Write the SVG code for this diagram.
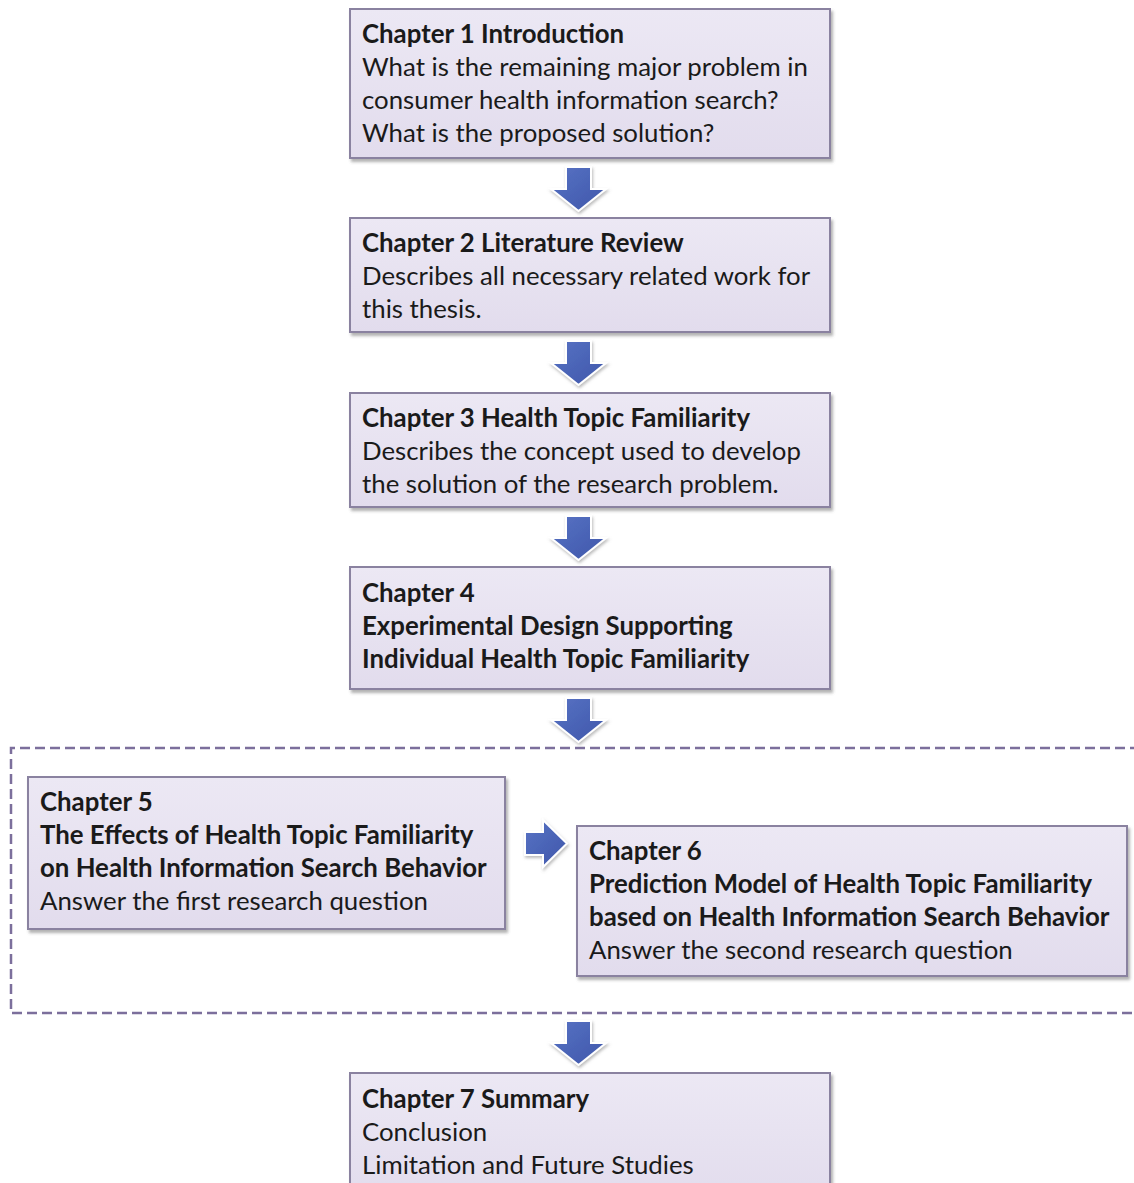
<svg xmlns="http://www.w3.org/2000/svg" width="1134" height="1183" viewBox="0 0 1134 1183">
  <defs>
    <linearGradient id="boxFill" x1="0" y1="0" x2="0" y2="1">
      <stop offset="0" stop-color="#ece8f4"/>
      <stop offset="1" stop-color="#e2dced"/>
    </linearGradient>
    <linearGradient id="arrowFill" x1="0" y1="0" x2="1" y2="1">
      <stop offset="0" stop-color="#5873c4"/>
      <stop offset="1" stop-color="#3e56aa"/>
    </linearGradient>
    <filter id="boxShadow" x="-5%" y="-5%" width="110%" height="115%">
      <feDropShadow dx="2" dy="3" stdDeviation="1.5" flood-color="#555" flood-opacity="0.45"/>
    </filter>
    <filter id="arrowShadow" x="-30%" y="-30%" width="160%" height="160%">
      <feDropShadow dx="1" dy="2" stdDeviation="1.5" flood-color="#777" flood-opacity="0.5"/>
    </filter>
  </defs>
  <style>
    .box { fill: url(#boxFill); stroke: #8a82a0; stroke-width: 2; filter: url(#boxShadow); }
    .arrow { fill: url(#arrowFill); stroke: #ffffff; stroke-width: 2; stroke-linejoin: miter; filter: url(#arrowShadow); }
    .frame { fill: none; stroke: #7c6f9c; stroke-width: 2.5; stroke-dasharray: 10 5; }
    text { font-family: Lato, "Open Sans", "Liberation Sans", sans-serif; font-size: 25.8px; fill: #1a1a1a; }
    .b { font-weight: bold; }
  </style>

  <rect width="1134" height="1183" fill="#ffffff"/>

  <!-- dashed frame around chapters 5 and 6 -->
  <path class="frame" d="M1140,748 H11 V1013 H1140"/>

  <g id="connectors">
    <path class="arrow" d="M566,167 H591 V189 H606 L578.5,211 L551,189 H566 Z"/>
    <path class="arrow" d="M566,341 H591 V363 H606 L578.5,385 L551,363 H566 Z"/>
    <path class="arrow" d="M566,516 H591 V538 H606 L578.5,560 L551,538 H566 Z"/>
    <path class="arrow" d="M566,698 H591 V720 H606 L578.5,742 L551,720 H566 Z"/>
    <path class="arrow" d="M566,1021 H591 V1043 H606 L578.5,1065 L551,1043 H566 Z"/>
    <path class="arrow" d="M525,832 H543 V820 L567,843.5 L543,867 V855 H525 Z"/>
  </g>

  <g id="ch1">
    <rect class="box" x="350" y="9" width="480" height="149"/>
    <text class="b" x="362" y="43">Chapter 1 Introduction</text>
    <text x="362" y="76">What is the remaining major problem in</text>
    <text x="362" y="109">consumer health information search?</text>
    <text x="362" y="142">What is the proposed solution?</text>
  </g>

  <g id="ch2">
    <rect class="box" x="350" y="218" width="480" height="114"/>
    <text class="b" x="362" y="252">Chapter 2 Literature Review</text>
    <text x="362" y="285">Describes all necessary related work for</text>
    <text x="362" y="318">this thesis.</text>
  </g>

  <g id="ch3">
    <rect class="box" x="350" y="393" width="480" height="114"/>
    <text class="b" x="362" y="427">Chapter 3 Health Topic Familiarity</text>
    <text x="362" y="460">Describes the concept used to develop</text>
    <text x="362" y="493">the solution of the research problem.</text>
  </g>

  <g id="ch4">
    <rect class="box" x="350" y="567" width="480" height="122"/>
    <text class="b" x="362" y="602">Chapter 4</text>
    <text class="b" x="362" y="635">Experimental Design Supporting</text>
    <text class="b" x="362" y="668">Individual Health Topic Familiarity</text>
  </g>

  <g id="ch5">
    <rect class="box" x="28" y="777" width="477" height="152"/>
    <text class="b" x="40" y="811">Chapter 5</text>
    <text class="b" x="40" y="844">The Effects of Health Topic Familiarity</text>
    <text class="b" x="40" y="877">on Health Information Search Behavior</text>
    <text x="40" y="910">Answer the first research question</text>
  </g>

  <g id="ch6">
    <rect class="box" x="577" y="826" width="550" height="150"/>
    <text class="b" x="589" y="860">Chapter 6</text>
    <text class="b" x="589" y="893">Prediction Model of Health Topic Familiarity</text>
    <text class="b" x="589" y="926">based on Health Information Search Behavior</text>
    <text x="589" y="959">Answer the second research question</text>
  </g>

  <g id="ch7">
    <rect class="box" x="350" y="1073" width="480" height="130"/>
    <text class="b" x="362" y="1108">Chapter 7 Summary</text>
    <text x="362" y="1141">Conclusion</text>
    <text x="362" y="1174">Limitation and Future Studies</text>
  </g>
</svg>
